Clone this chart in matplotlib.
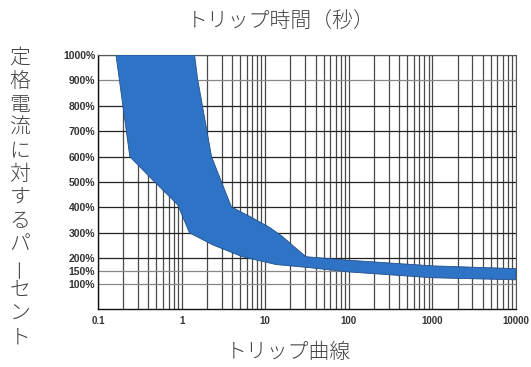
import numpy as np
import matplotlib.pyplot as plt
from matplotlib.ticker import FixedLocator, NullFormatter

plt.rcParams['font.family'] = ['Noto Sans CJK JP', 'DejaVu Sans']

# trip band: fastest trip (lower edge) and slowest trip (upper edge)
lower_t = [0.164, 0.24, 0.45, 0.9, 1.24, 2.34, 5.3, 13.5, 33.4, 100, 1000, 10000]
lower_pct = [1000, 600, 508, 410, 300, 253, 206, 175, 163, 146, 123, 115]
upper_t = [1.43, 1.55, 2.28, 3.94, 6.5, 11.2, 16.0, 21.0, 26.0, 30.8, 100, 1000, 10000]
upper_pct = [1000, 908, 600, 402, 365, 322, 286, 252, 226, 206, 192, 170, 159]

y_ticks = [100, 150, 200, 300, 400, 500, 600, 700, 800, 900, 1000]
y_labels = [str(v) + "%" for v in y_ticks]
x_ticks = [0.1, 1, 10, 100, 1000, 10000]
x_labels = ["0.1", "1", "10", "100", "1000", "10000"]

title = "トリップ時間（秒）"
xlabel = "トリップ曲線"
ylabel = "定格電流に対するパーセント"

fig = plt.figure(figsize=(5.31, 3.67), dpi=100)
ax = fig.add_axes([0.1846, 0.158, 0.7872, 0.692])

ax.set_xscale("log")
ax.set_xlim(0.1, 10000)
ax.set_ylim(0, 1000)

# grid: decades plus 2..9 inside each decade
minor = [m * 10.0 ** e for e in range(-1, 4) for m in range(2, 10)]
ax.xaxis.set_major_locator(FixedLocator(x_ticks))
ax.xaxis.set_minor_locator(FixedLocator(minor))
ax.xaxis.set_minor_formatter(NullFormatter())
for xv in x_ticks + minor:
    ax.axvline(xv, color="#4a4a4a", lw=0.9, zorder=1)
for yv in y_ticks:
    c = "#888888" if yv in (100, 150, 900) else "#222222"
    ax.axhline(yv, color=c, lw=0.9, zorder=1)

# band polygon: lower edge left to right, then upper edge back
poly_t = lower_t + upper_t[::-1]
poly_p = lower_pct + upper_pct[::-1]
ax.fill(poly_t, poly_p, facecolor="#2e73c6", edgecolor="#23508a", lw=0.6, zorder=3)

ax.set_yticks(y_ticks)
ax.set_yticklabels(y_labels, fontsize=7.5, fontweight="bold", family="Liberation Sans", color="#333333")
ax.set_xticklabels(x_labels, fontsize=7, fontweight="bold", family="Liberation Sans", color="#333333")
ax.tick_params(axis="both", which="both", length=0)
ax.tick_params(axis="y", pad=2)
ax.tick_params(axis="x", pad=5)

for side in ["left", "bottom"]:
    ax.spines[side].set_color("#111111")
    ax.spines[side].set_linewidth(1.0)
for side in ["top", "right"]:
    ax.spines[side].set_color("#555555")
    ax.spines[side].set_linewidth(0.8)

fig.text(281 / 531, 1 - 21 / 367, title, ha="center", va="center", fontsize=15,
         color="#444444", fontweight="light")
fig.text(288 / 531, 1 - 352 / 367, xlabel, ha="center", va="center", fontsize=15,
         color="#444444", fontweight="light")

# vertical y label, one character per row
for i, ch in enumerate(ylabel):
    yc = 58 + i * 23.3
    fig.text(20 / 531, 1 - yc / 367, ch, ha="center", va="center", fontsize=15,
             color="#444444", fontweight="light", rotation=90 if ch == "ー" else 0)

fig.savefig("out.png", dpi=100)
